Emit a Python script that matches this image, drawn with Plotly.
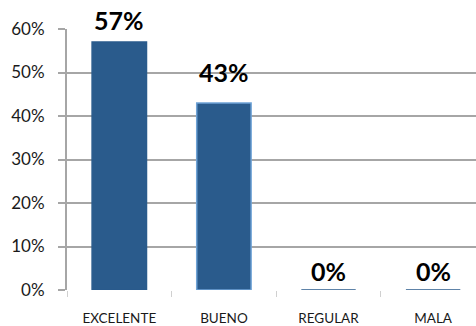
import plotly.graph_objects as go

# Survey rating distribution
categories = ["EXCELENTE", "BUENO", "REGULAR", "MALA"]
shares = [0.57, 0.43, 0.0, 0.0]
label_lift = [5, 14, 2, 2]           # px gap between bar top and its value label
y_ticks = [0, 0.1, 0.2, 0.3, 0.4, 0.5, 0.6]
y_tick_text = ["0%", "10%", "20%", "30%", "40%", "50%", "60%"]

bar_fill = "#2A5B8C"
bar_edges = ["#2A5B8C", "#6FA3D6", "#2A5B8C", "#2A5B8C"]
grid_color = "#A6A6A6"

fig = go.Figure()
fig.add_trace(go.Bar(
    x=categories,
    y=shares,
    width=0.52,
    marker=dict(color=bar_fill, line=dict(color=bar_edges, width=1.5)),
    hoverinfo="skip",
))

for cat, val, lift in zip(categories, shares, label_lift):
    fig.add_annotation(
        x=cat, y=val, text=f"<b>{round(val * 100)}%</b>",
        showarrow=False, yanchor="bottom", yshift=lift,
        font=dict(family="Lato", size=25, color="#000000"),
    )

fig.update_layout(
    width=476, height=326,
    margin=dict(l=67, r=0, t=29, b=36),
    paper_bgcolor="white", plot_bgcolor="white",
    showlegend=False,
    font=dict(family="Lato", color="#1a1a1a"),
)
fig.update_yaxes(
    range=[0, 0.6],
    tickvals=y_ticks, ticktext=y_tick_text,
    tickfont=dict(size=17, color="#1a1a1a"),
    showgrid=True, gridcolor=grid_color, gridwidth=1.5,
    showline=True, linecolor=grid_color, linewidth=2,
    ticks="outside", ticklen=7, tickcolor=grid_color, tickwidth=1.5,
    ticklabelstandoff=10,
    zeroline=False,
)
fig.update_xaxes(
    range=[-0.5, 3.41],
    tickfont=dict(size=13.5, color="#1a1a1a"),
    showline=False, showgrid=False,
    ticks="outside", tickson="boundaries", ticklen=6,
    tickcolor="#D0D0D0", tickwidth=1,
    ticklabelstandoff=18,
)

fig.write_html("out.html")
